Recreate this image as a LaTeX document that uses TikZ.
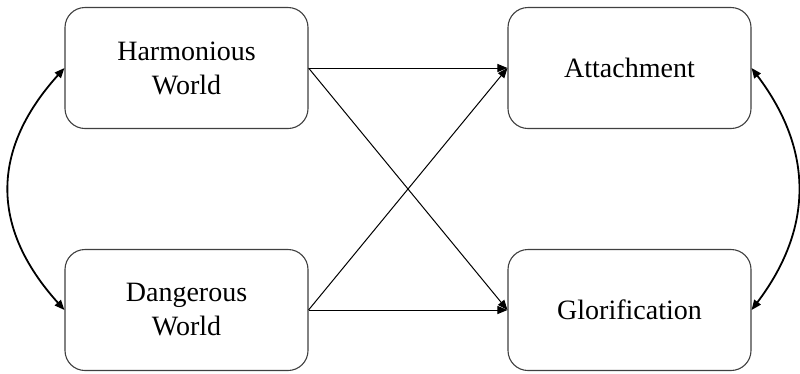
\documentclass[tikz,border=0pt]{standalone}
\usepackage{fontspec}
\setmainfont{Liberation Serif}
\usetikzlibrary{arrows.meta}
\begin{document}
\begin{tikzpicture}[x=1pt,y=-1pt,
  box/.style={draw=black!75, line width=1.1pt, rounded corners=20pt, minimum width=243pt, minimum height=121pt, align=center, font=\fontsize{28}{34}\selectfont, inner sep=0pt},
  arr/.style={line width=1pt, -{Triangle[length=10pt,width=8pt]}},
  dbl/.style={line width=1.8pt, {Triangle[length=10pt,width=8pt]}-{Triangle[length=10pt,width=8pt]}}]
\useasboundingbox (0,0) rectangle (800,373);
\fill[white] (0,0) rectangle (800,373);
\node[box] (hw) at (186.5,68) {Harmonious\\World};
\node[box] (dw) at (186.5,310) {Dangerous\\World};
\node[box] (at) at (629.5,68) {Attachment};
\node[box] (gl) at (629.5,310) {Glorification};
\draw[arr] (hw.east) -- (at.west);
\draw[arr] (dw.east) -- (gl.west);
\draw[arr] (hw.east) -- (gl.west);
\draw[arr] (dw.east) -- (at.west);
\draw[dbl] (hw.west) .. controls +(-74,82) and +(-74,-82) .. (dw.west);
\draw[dbl] (at.east) .. controls +(62,82) and +(62,-82) .. (gl.east);
\end{tikzpicture}
\end{document}
